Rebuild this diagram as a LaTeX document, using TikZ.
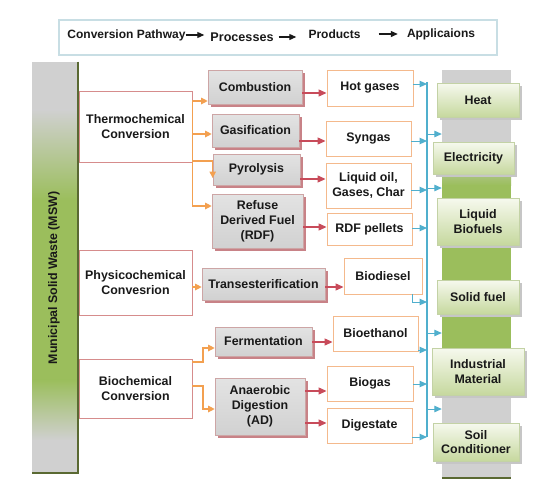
\documentclass[tikz,border=0pt]{standalone}
\usepackage{fontspec}
\setmainfont{Liberation Sans}
\usetikzlibrary{arrows.meta,shadows}
\definecolor{convred}{RGB}{214,140,140}
\definecolor{procborder}{RGB}{205,165,165}
\definecolor{procshadow}{RGB}{200,130,135}
\definecolor{prodorange}{RGB}{244,185,140}
\definecolor{linkorange}{RGB}{243,160,80}
\definecolor{linkred}{RGB}{200,75,90}
\definecolor{linkblue}{RGB}{80,175,205}
\definecolor{appgreen}{RGB}{198,216,158}
\definecolor{applight}{RGB}{246,249,238}
\definecolor{appborder}{RGB}{195,210,165}
\definecolor{bargray}{RGB}{208,208,208}
\definecolor{bargreen}{RGB}{155,190,92}
\definecolor{barolive}{RGB}{90,105,50}
\definecolor{hdrborder}{RGB}{200,222,228}
\definecolor{txt}{RGB}{25,25,25}
\tikzset{
  txtfont/.style={font=\fontsize{12.4}{14.8}\selectfont\bfseries, text=txt, align=center},
  convbox/.style={txtfont, draw=convred, fill=white, line width=0.9pt, inner sep=0pt},
  procbox/.style={txtfont, draw=procborder, top color=gray!22, bottom color=gray!36, line width=0.6pt, inner sep=0pt,
    drop shadow={shadow xshift=2.5pt, shadow yshift=-2.5pt, fill=procshadow, opacity=1}},
  prodbox/.style={txtfont, draw=prodorange, fill=white, line width=0.9pt, inner sep=0pt},
  appbox/.style={txtfont, draw=appborder, top color=applight, bottom color=appgreen, line width=0.5pt, inner sep=0pt,
    drop shadow={shadow xshift=2.5pt, shadow yshift=-2.5pt, fill=gray!45, opacity=1}},
  barseg/.style={draw=none, inner sep=0pt},
  mswseg/.style={barseg, minimum width=46pt},
  stkseg/.style={barseg, minimum width=69pt},
  hdrtext/.style={font=\fontsize{12}{14}\selectfont\bfseries, text=txt, inner sep=0pt},
  hdrarrow/.style={draw=txt, line width=1.1pt, -{Triangle[length=7pt,width=6pt]}},
  orangelink/.style={draw=linkorange, line width=1.1pt, -{Triangle[length=6.5pt,width=6.5pt]}},
  orangeline/.style={draw=linkorange, line width=1.1pt},
  redlink/.style={draw=linkred, line width=1.1pt, -{Triangle[length=8pt,width=7pt]}},
  bluelink/.style={draw=linkblue, line width=1pt, -{Triangle[length=7.5pt,width=6.5pt]}},
  blueline/.style={draw=linkblue, line width=1.2pt},
  edgeline/.style={draw=barolive, line width=1.5pt}
}
\begin{document}
\begin{tikzpicture}[x=1pt,y=-1pt]
\fill[white] (0,0) rectangle (548,501);
\useasboundingbox (0,0) rectangle (548,501);

% header
\node[draw=hdrborder, line width=1.2pt, minimum width=438pt, minimum height=35pt, inner sep=0pt] (hdr) at (278,37.5) {};
\node[hdrtext] (h1) at (126.5,35) {Conversion Pathway};
\node[hdrtext, font=\fontsize{12.6}{14}\selectfont\bfseries] (h2) at (242,37) {Processes};
\node[hdrtext] (h3) at (334.5,34) {Products};
\node[hdrtext] (h4) at (441,34) {Applicaions};
\draw[hdrarrow, shorten >=6pt] (h1.east) -- (h1.east -| h2.west);
\draw[hdrarrow, shorten <=5pt, shorten >=12pt] (h2.east) -- (h2.east -| h3.west);
\draw[hdrarrow, shorten <=18pt, shorten >=9pt] (h3.east) -- (h3.east -| h4.west);

% MSW bar
\node[mswseg, fill=bargray, minimum height=48.6pt] (msw1) at (55,86) {};
\node[mswseg, top color=bargray, bottom color=bargreen, minimum height=90.6pt] (msw2) at (55,155) {};
\node[mswseg, fill=bargreen, minimum height=180.6pt] (msw3) at (55,290) {};
\node[mswseg, top color=bargreen, bottom color=bargray, minimum height=60.6pt] (msw4) at (55,410) {};
\node[mswseg, fill=bargray, minimum height=33pt] (msw5) at (55,456.5) {};
\draw[edgeline] (msw1.north east) -- (msw5.south east) -- (msw5.south west);
\node[txtfont, rotate=90] (mswlabel) at (54,278) {Municipal Solid Waste (MSW)};

% applications stack bar
\node[stkseg, fill=bargray, minimum height=80.6pt] (stk1) at (476.5,110) {};
\node[stkseg, top color=bargray, bottom color=bargreen, minimum height=35.6pt] (stk2) at (476.5,167.5) {};
\node[stkseg, fill=bargreen, minimum height=170.6pt] (stk3) at (476.5,270) {};
\node[stkseg, top color=bargreen, bottom color=bargray, minimum height=40.6pt] (stk4) at (476.5,375) {};
\node[stkseg, fill=bargray, minimum height=83pt] (stk5) at (476.5,436.5) {};
\draw[edgeline] (stk5.south west) -- (stk5.south east);

% conversion pathways
\node[convbox, minimum width=113pt, minimum height=71pt] (thermo) at (135.5,126.5) {Thermochemical\\Conversion};
\node[convbox, minimum width=113pt, minimum height=65pt] (physico) at (135.5,282.5) {Physicochemical\\Convesrion};
\node[convbox, minimum width=113pt, minimum height=59pt] (bio) at (135.5,388.5) {Biochemical\\Conversion};

% processes
\node[procbox, minimum width=94pt, minimum height=34pt] (comb) at (255,87) {Combustion};
\node[procbox, minimum width=87pt, minimum height=33pt] (gas) at (255.5,130.5) {Gasification};
\node[procbox, minimum width=87pt, minimum height=31pt] (pyro) at (256.5,169.5) {Pyrolysis};
\node[procbox, minimum width=91pt, minimum height=54pt] (rdf) at (257.5,221) {Refuse\\Derived Fuel\\(RDF)};
\node[procbox, minimum width=123pt, minimum height=32pt] (trans) at (263.5,284) {Transesterification};
\node[procbox, minimum width=97pt, minimum height=29pt] (ferm) at (263.5,341.5) {Fermentation};
\node[procbox, minimum width=90pt, minimum height=57pt] (ad) at (260,406.5) {Anaerobic\\Digestion\\(AD)};

% products
\node[prodbox, minimum width=86pt, minimum height=36pt] (hot) at (370,88) {Hot gases};
\node[prodbox, minimum width=85pt, minimum height=35pt] (syn) at (368.5,138.5) {Syngas};
\node[prodbox, minimum width=85pt, minimum height=45pt] (liq) at (368.5,185.5) {Liquid oil,\\Gases, Char};
\node[prodbox, minimum width=85pt, minimum height=32pt] (rdfp) at (369.5,229) {RDF pellets};
\node[prodbox, minimum width=78pt, minimum height=36pt] (biod) at (383,276) {Biodiesel};
\node[prodbox, minimum width=85pt, minimum height=35pt] (bioe) at (375.5,333.5) {Bioethanol};
\node[prodbox, minimum width=86pt, minimum height=35pt] (biog) at (370,383.5) {Biogas};
\node[prodbox, minimum width=85pt, minimum height=35pt] (dig) at (369.5,425.5) {Digestate};

% applications
\node[appbox, minimum width=82pt, minimum height=34pt] (heat) at (478,100) {Heat};
\node[appbox, minimum width=81pt, minimum height=32pt] (elec) at (473.5,158) {Electricity};
\node[appbox, minimum width=82pt, minimum height=47pt] (liqb) at (478,221.5) {Liquid\\Biofuels};
\node[appbox, minimum width=82pt, minimum height=34pt] (solid) at (478,297) {Solid fuel};
\node[appbox, minimum width=92pt, minimum height=47pt] (ind) at (478,371.5) {Industrial\\Material};
\node[appbox, minimum width=86pt, minimum height=38pt] (soil) at (476,442) {Soil\\Conditioner};

% orange connectors
\draw[orangeline] (thermo.east |- 0,101) -- (thermo.east |- 0,206);
\draw[orangelink] (thermo.east |- 0,101) -- (comb.west |- 0,101);
\draw[orangelink] (thermo.east |- 0,134) -- (gas.west |- 0,134);
\draw[orangelink] (thermo.east |- 0,161) -| (pyro.west |- 0,178);
\draw[orangelink] (thermo.east |- 0,206) -- (rdf.west |- 0,206);
\draw[orangelink] (physico.east |- 0,287) -- (trans.west |- 0,287);
\coordinate (bj) at (203,0);
\draw[orangelink] (bio.east |- 0,362) -| (bj |- 0,348) -- (ferm.west |- 0,348);
\draw[orangelink] (bio.east |- 0,386) -| (bj |- 0,409) -- (ad.west |- 0,409);

% red connectors
\draw[redlink] (comb.east |- 0,93) -- (hot.west |- 0,93);
\draw[redlink] (gas.east |- 0,141) -- (syn.west |- 0,141);
\draw[redlink] (pyro.east |- 0,179) -- (liq.west |- 0,179);
\draw[redlink] (rdf.east |- 0,227) -- (rdfp.west |- 0,227);
\draw[redlink] (trans.east |- 0,287) -- (biod.west |- 0,287);
\draw[redlink] (ferm.east |- 0,342) -- (bioe.west |- 0,342);
\draw[redlink] (ad.east |- 0,391) -- (biog.west |- 0,391);
\draw[redlink] (ad.east |- 0,423) -- (dig.west |- 0,423);

% blue connectors
\coordinate (bustop) at (427,82);
\coordinate (busbot) at (427,437);
\draw[blueline] (bustop) -- (busbot);
\draw[bluelink] (hot.east |- 0,84) -- (bustop |- 0,84);
\draw[bluelink] (syn.east |- 0,141) -- (bustop |- 0,141);
\draw[bluelink] (liq.east |- 0,190) -- (bustop |- 0,190);
\draw[bluelink] (rdfp.east |- 0,228) -- (bustop |- 0,228);
\draw[bluelink] ([xshift=-10pt]biod.south east) |- (bustop |- 0,302);
\draw[bluelink] (bioe.east |- 0,350) -- (bustop |- 0,350);
\draw[bluelink] (biog.east |- 0,384) -- (bustop |- 0,384);
\draw[bluelink] (dig.east |- 0,437) -- (busbot);
\draw[bluelink] (bustop |- 0,134) -- (stk1.west |- 0,134);
\draw[bluelink] (bustop |- 0,188) -- (stk3.west |- 0,188);
\draw[bluelink] (bustop |- 0,333) -- (stk3.west |- 0,333);
\draw[bluelink] (bustop |- 0,409) -- (stk5.west |- 0,409);
\end{tikzpicture}
\end{document}
